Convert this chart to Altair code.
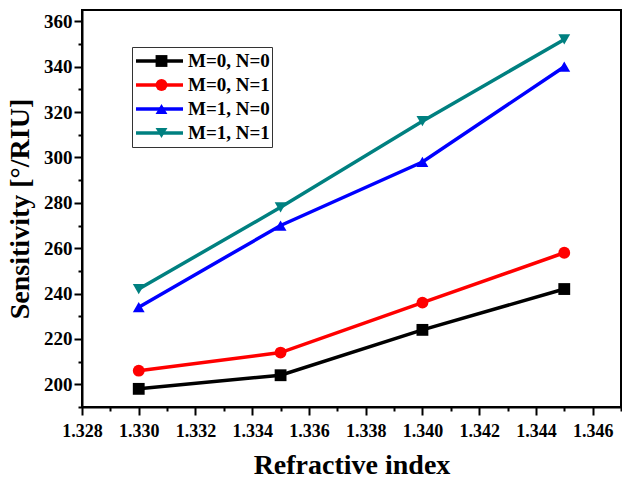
import altair as alt
import pandas as pd

# ---- data ----
refractive_index = [1.330, 1.335, 1.340, 1.345]
series_names = ["M=0, N=0", "M=0, N=1", "M=1, N=0", "M=1, N=1"]
s_m0_n0 = [198, 204, 224, 242]
s_m0_n1 = [206, 214, 236, 258]
s_m1_n0 = [234, 270, 298, 340]
s_m1_n1 = [242, 278, 316, 352]

series_colors = ["#000000", "#FF0000", "#0000FF", "#008080"]
series_shapes = ["square", "circle", "triangle-up", "triangle-down"]

x_ticks = [1.328, 1.329, 1.330, 1.331, 1.332, 1.333, 1.334, 1.335, 1.336, 1.337,
           1.338, 1.339, 1.340, 1.341, 1.342, 1.343, 1.344, 1.345, 1.346, 1.347]
y_ticks = [190, 200, 210, 220, 230, 240, 250, 260, 270, 280, 290, 300,
           310, 320, 330, 340, 350, 360]

rows = []
for name, vals in zip(series_names, [s_m0_n0, s_m0_n1, s_m1_n0, s_m1_n1]):
    for xv, yv in zip(refractive_index, vals):
        rows.append({"ri": xv, "sens": yv, "series": name, "series_line": name})
df = pd.DataFrame(rows)

FONT = "Liberation Serif"

x_enc = alt.X(
    "ri:Q",
    scale=alt.Scale(domain=[1.328, 1.347], nice=False, zero=False),
    axis=alt.Axis(
        title="Refractive index",
        values=x_ticks,
        labelExpr="round(datum.value*1000) % 2 == 0 ? format(datum.value, '.3f') : ''",
        tickSize={"condition": {"test": "round(datum.value*1000) % 2 == 0", "value": 8}, "value": 4},
        tickWidth=2, tickColor="black",
        domainColor="black", domainWidth=2,
        labelFont=FONT, labelFontWeight="bold", labelFontSize=18, labelColor="black",
        labelPadding=7, labelFlush=False, labelOverlap=False,
        titleFont=FONT, titleFontWeight="bold", titleFontSize=28, titleColor="black",
        titlePadding=11, grid=False,
    ),
)
y_enc = alt.Y(
    "sens:Q",
    scale=alt.Scale(domain=[190, 365], nice=False, zero=False),
    axis=alt.Axis(
        title="Sensitivity [°/RIU]",
        values=y_ticks,
        labelExpr="datum.value % 20 == 0 ? datum.value : ''",
        tickSize={"condition": {"test": "datum.value % 20 == 0", "value": 8}, "value": 4},
        tickWidth=2, tickColor="black",
        domainColor="black", domainWidth=2,
        labelFont=FONT, labelFontWeight="bold", labelFontSize=19, labelColor="black",
        labelPadding=2, labelFlush=False, labelOverlap=False,
        titleFont=FONT, titleFontWeight="bold", titleFontSize=28, titleColor="black",
        titlePadding=9, grid=False,
    ),
)

line_legend = alt.Legend(
    title=None, orient="none", legendX=50, legendY=37,
    symbolType="stroke", symbolSize=2209, symbolStrokeWidth=3.5,
    labelFont=FONT, labelFontWeight="bold", labelFontSize=19, labelColor="black",
    labelOffset=3, clipHeight=24, rowPadding=0, padding=2,
    strokeColor="#333333", fillColor="white", zindex=1,
)
point_legend = alt.Legend(
    title=None, orient="none", legendX=68, legendY=37,
    symbolSize=140, symbolStrokeWidth=0,
    labelFont=FONT, labelFontSize=19, labelExpr="''",
    labelOffset=0, clipHeight=24, rowPadding=0, padding=2, zindex=2,
)

lines = alt.Chart(df).mark_line(strokeWidth=3.5).encode(
    x=x_enc, y=y_enc,
    stroke=alt.Stroke("series_line:N", sort=series_names,
                      scale=alt.Scale(range=series_colors),
                      legend=line_legend),
)
points = alt.Chart(df).mark_point(filled=True, size=140, opacity=1).encode(
    x=x_enc, y=y_enc,
    color=alt.Color("series:N", sort=series_names,
                    scale=alt.Scale(domain=series_names, range=series_colors),
                    legend=point_legend),
    shape=alt.Shape("series:N", sort=series_names,
                    scale=alt.Scale(domain=series_names, range=series_shapes),
                    legend=point_legend),
)

chart = (
    alt.layer(lines, points)
    .properties(
        width=539, height=397,
        autosize=alt.AutoSizeParams(type="none"),
        padding={"left": 82, "top": 10, "right": 1, "bottom": 72},
        background="white",
    )
    .configure_view(stroke="black", strokeWidth=2)
)

chart.save("out.html", embed_options={"renderer": "svg", "actions": False})
